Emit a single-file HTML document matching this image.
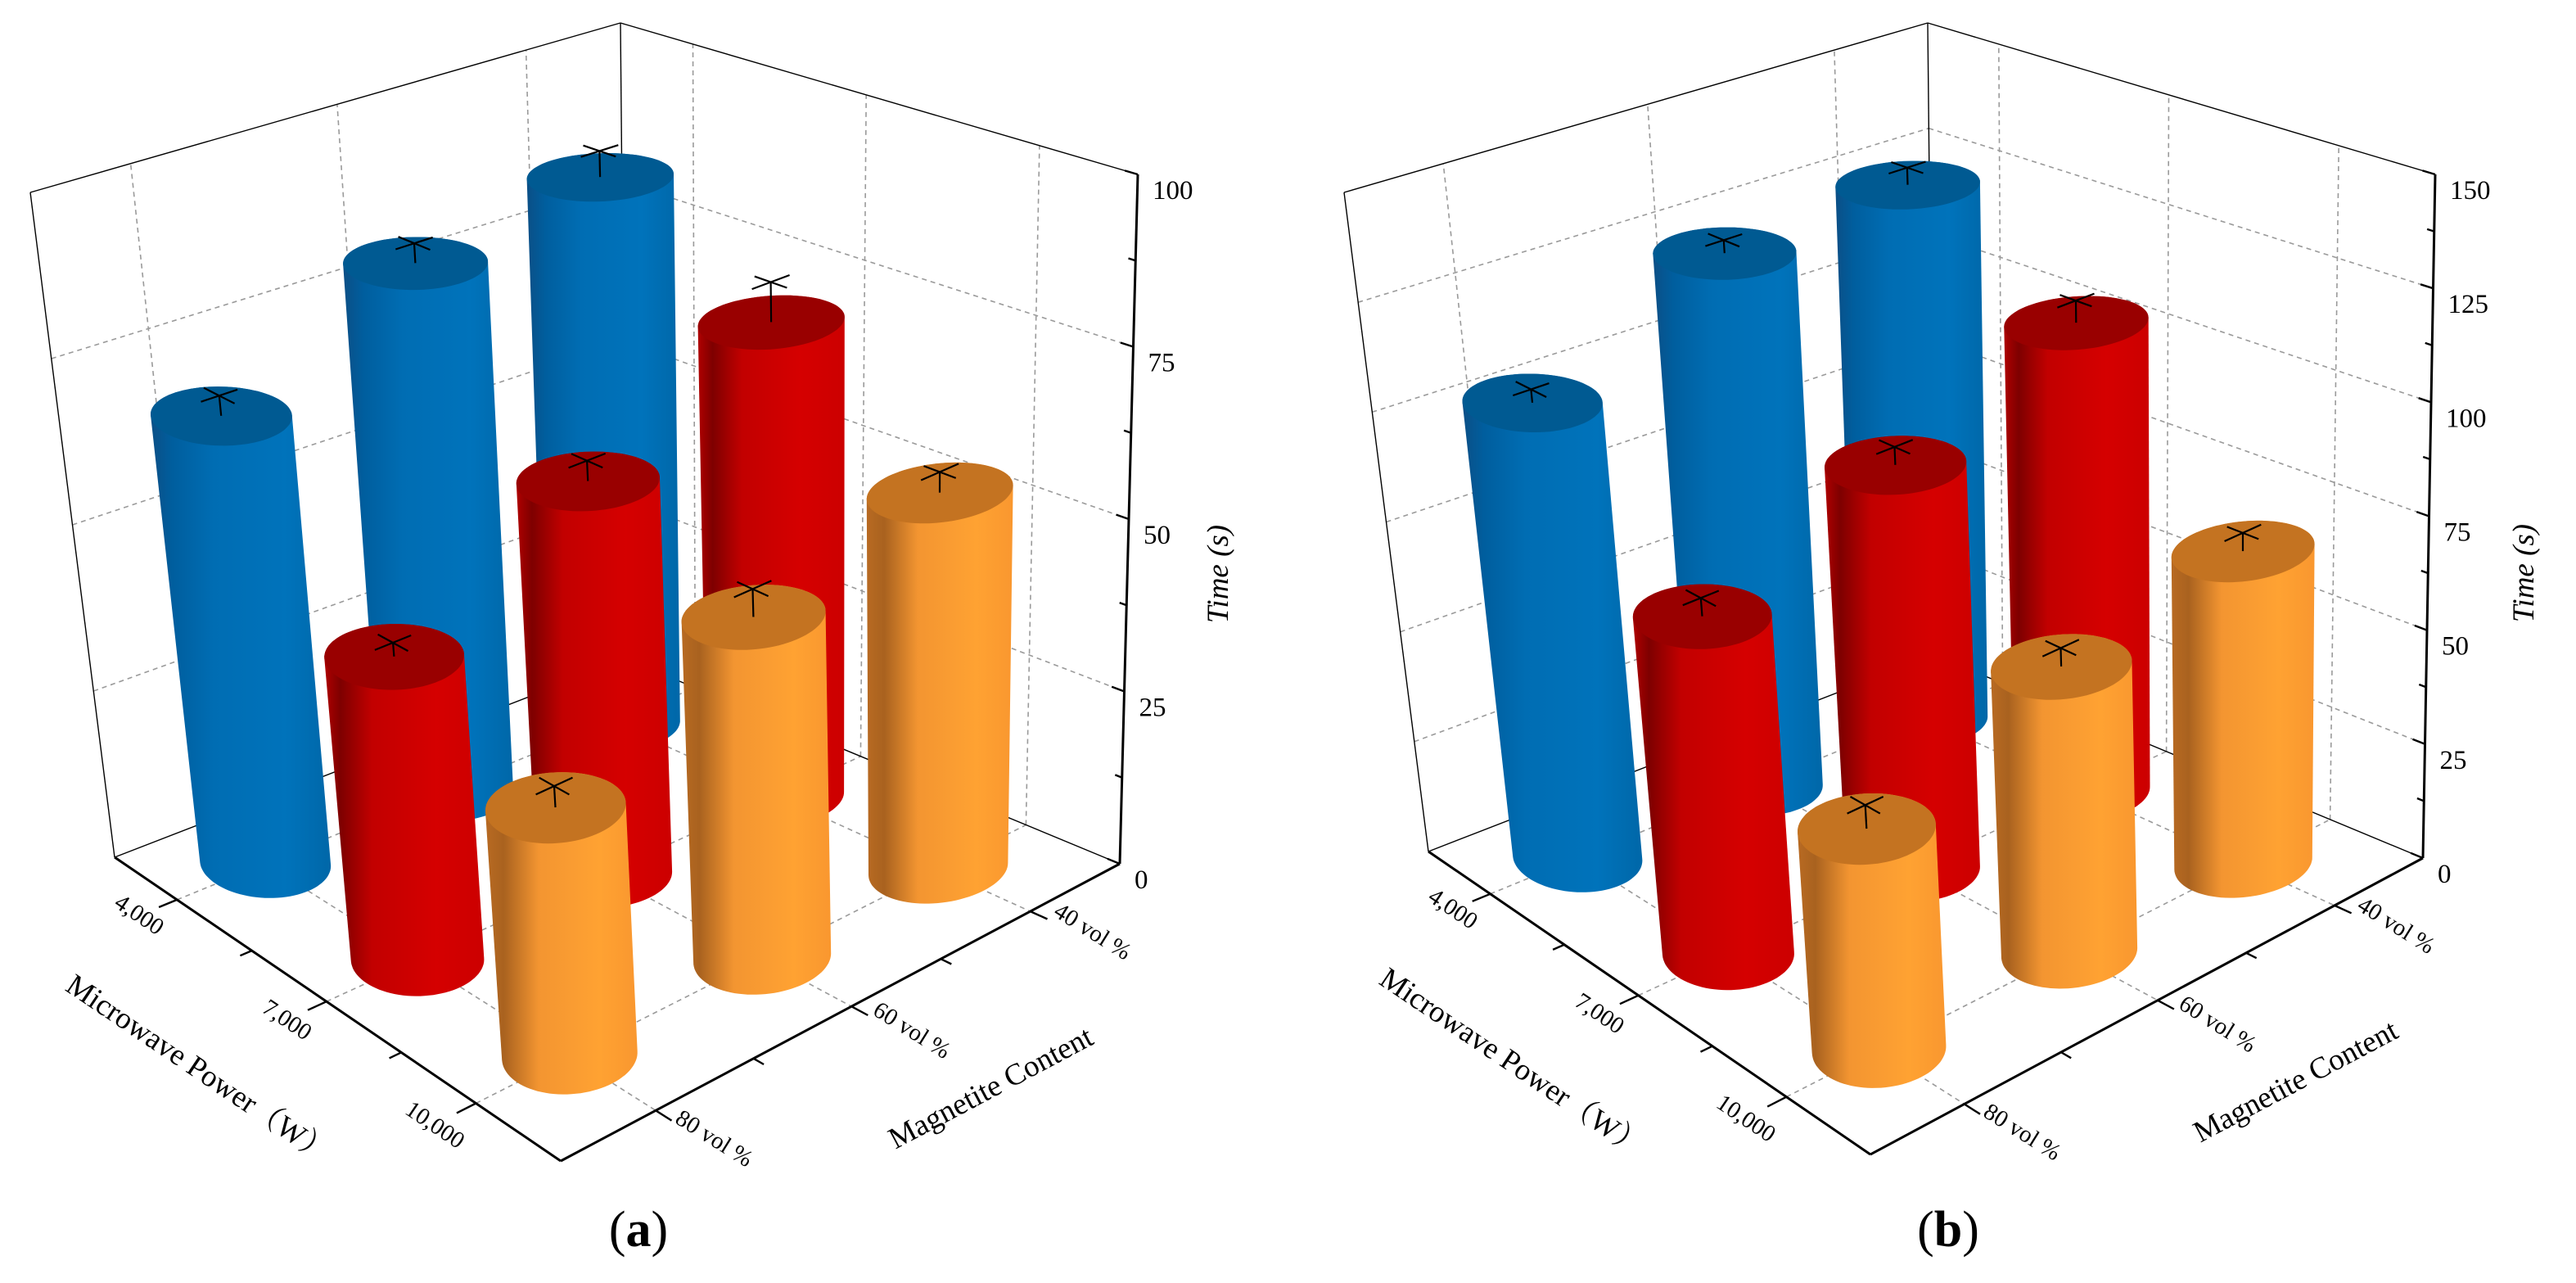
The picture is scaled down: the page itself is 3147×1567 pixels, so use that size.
<!DOCTYPE html>
<html><head><meta charset="utf-8">
<style>
html,body{margin:0;padding:0;background:#fff;}
svg{display:block;}
text{font-family:"Liberation Serif","Noto Serif CJK SC",serif;fill:#000;}
</style></head>
<body>
<svg id="chart" width="3147" height="1567" viewBox="0 0 3147 1567" xmlns="http://www.w3.org/2000/svg">
<defs id="defs"></defs>
</svg>
<script>
// ---- data ----
const powerCats = ["4,000", "7,000", "10,000"];
const magCats = ["80 vol %", "60 vol %", "40 vol %"];
// panel (a) times (s), order: 80, 60, 40 vol %
const timeA_4000 = [67, 80, 84];
const timeA_7000 = [44, 58, 71];
const timeA_10000 = [35, 49, 55];
const errA_4000 = [3, 3, 4];
const errA_7000 = [2, 3, 6];
const errA_10000 = [3, 4, 3];
// panel (b) times (s)
const timeB_4000 = [103, 122, 124];
const timeB_7000 = [74, 90, 106];
const timeB_10000 = [47, 62, 69];
const errB_4000 = [3, 3, 4];
const errB_7000 = [4, 4, 5];
const errB_10000 = [5, 4, 4];
const ticksA = [0, 25, 50, 75, 100];
const ticksB = [0, 25, 50, 75, 100, 125, 150];

// ---- layout ----
const NS = "http://www.w3.org/2000/svg";
const svg = document.getElementById("chart");
const defs = document.getElementById("defs");
const pPos = [0.14, 0.475, 0.81];
const mPos = [0.17, 0.52, 0.84];
const R = 0.095;
const palette = [
  {side:[["0","#0b4f86"],["0.12","#005e9e"],["0.35","#006db3"],["0.75","#0073bb"],["1","#0067a8"]], top:"#005a92", name:"blue"},
  {side:[["0","#b00000"],["0.1","#7e0000"],["0.3","#c20000"],["0.7","#d50000"],["1","#cc0000"]], top:"#990000", name:"red"},
  {side:[["0","#b86a22"],["0.12","#a9621f"],["0.35","#f39531"],["0.75","#ffa232"],["1","#f9972f"]], top:"#c47321", name:"orange"}
];

const panelA = {
  id:"a", zmax:100, ticks:ticksA, rows:[timeA_4000,timeA_7000,timeA_10000], errs:[errA_4000,errA_7000,errA_10000],
  L:[140,1047], F:[685,1418], Rr:[1368,1055], B:[765,805],
  Lt:[37,235], Ft:[632,528], Rt:[1390,213], Bt:[758,28],
  title:[1500,701], label:[780,1500]
};
const panelB = {
  id:"b", zmax:150, ticks:ticksB, rows:[timeB_4000,timeB_7000,timeB_10000], errs:[errB_4000,errB_7000,errB_10000],
  L:[1745,1040], F:[2285,1410], Rr:[2960,1048], B:[2363,800],
  Lt:[1642,235], Ft:[2235,525], Rt:[2975,213], Bt:[2355,28],
  title:[3095,700], label:[2380,1500]
};

function bil(A,Bq,C,D,p,m){
  const a=(1-p)*(1-m), b=p*(1-m), c=p*m, d=(1-p)*m;
  return [A[0]*a+Bq[0]*b+C[0]*c+D[0]*d, A[1]*a+Bq[1]*b+C[1]*c+D[1]*d];
}
function P(c,p,m,w){
  const f=bil(c.L,c.F,c.Rr,c.B,p,m), t=bil(c.Lt,c.Ft,c.Rt,c.Bt,p,m);
  return [f[0]+(t[0]-f[0])*w, f[1]+(t[1]-f[1])*w];
}
function el(tag, attrs, parent){
  const e=document.createElementNS(NS,tag);
  for(const k in attrs) e.setAttribute(k,attrs[k]);
  (parent||svg).appendChild(e);
  return e;
}
function line(g,a,b,style){
  return el("line",Object.assign({x1:a[0].toFixed(1),y1:a[1].toFixed(1),x2:b[0].toFixed(1),y2:b[1].toFixed(1)},style),g);
}
function hull(pts){
  pts=pts.slice().sort((a,b)=>a[0]-b[0]||a[1]-b[1]);
  const cr=(o,a,b)=>(a[0]-o[0])*(b[1]-o[1])-(a[1]-o[1])*(b[0]-o[0]);
  const lo=[],up=[];
  for(const p of pts){while(lo.length>=2&&cr(lo[lo.length-2],lo[lo.length-1],p)<=0)lo.pop();lo.push(p);}
  for(let i=pts.length-1;i>=0;i--){const p=pts[i];while(up.length>=2&&cr(up[up.length-2],up[up.length-1],p)<=0)up.pop();up.push(p);}
  up.pop();lo.pop();return lo.concat(up);
}
const ptsStr=a=>a.map(p=>p[0].toFixed(1)+","+p[1].toFixed(1)).join(" ");
const dash={stroke:"#9a9a9a","stroke-width":"1.6","stroke-dasharray":"6 5",fill:"none"};
const thin={stroke:"#000","stroke-width":"1.4",fill:"none"};
const thick={stroke:"#000","stroke-width":"3",fill:"none"};

function drawPanel(c){
  const g=el("g",{});
  
  
  const grid=el("g",{},g);
  
  
  c.ticks.forEach(t=>{
    if(t===0||t===c.zmax) return;
    const w=t/c.zmax;
    line(grid,P(c,0,0,w),P(c,0,1,w),dash);
    line(grid,P(c,0,1,w),P(c,1,1,w),dash);
  });
  mPos.forEach(m=>{ line(grid,P(c,0,m,0),P(c,0,m,1),dash); line(grid,P(c,0,m,0),P(c,1,m,0),dash); });
  pPos.forEach(p=>{ line(grid,P(c,p,1,0),P(c,p,1,1),dash); line(grid,P(c,p,0,0),P(c,p,1,0),dash); });
  const box=el("g",{},g);
  
  
  line(box,P(c,0,0,1),P(c,0,1,1),thin);
  line(box,P(c,0,1,1),P(c,1,1,1),thin);
  line(box,P(c,0,1,0),P(c,0,1,1),thin);
  line(box,P(c,0,0,0),P(c,0,0,1),thin);
  line(box,P(c,0,0,0),P(c,0,1,0),thin);
  line(box,P(c,0,1,0),P(c,1,1,0),thin);

  const bars=[];
  for(let i=0;i<3;i++) for(let j=0;j<3;j++) bars.push({i,j,p:pPos[i],m:mPos[j],v:c.rows[i][j],e:c.errs[i][j]});
  bars.sort((a,b)=>(a.p-a.m)-(b.p-b.m));
  const barsG=el("g",{},g);
  
  
  bars.forEach(b=>{
    const w=b.v/c.zmax;
    const bot=[],top=[];
    for(let k=0;k<96;k++){
      const th=k/96*Math.PI*2;
      const pp=b.p+R*Math.cos(th), mm=b.m+R*Math.sin(th);
      bot.push(P(c,pp,mm,0)); top.push(P(c,pp,mm,w));
    }
    const h=hull(bot.concat(top));
    const xs=h.map(q=>q[0]);
    const x0=Math.min(...xs), x1=Math.max(...xs);
    const col=palette[b.i];
    const gid="grad-"+c.id+"-"+b.i+"-"+b.j;
    const lg=el("linearGradient",{id:gid,gradientUnits:"userSpaceOnUse",x1:x0,y1:0,x2:x1,y2:0},defs);
    col.side.forEach(s=>el("stop",{offset:s[0],"stop-color":s[1]},lg));
    const bg=el("g",{},barsG);
    
    
    const side=el("polygon",{points:ptsStr(h),fill:"url(#"+gid+")"},bg);
    
    
    const cap=el("polygon",{points:ptsStr(top),fill:col.top},bg);
    
    
    const eg=el("g",{},bg);
    
    
    const we=(b.v+b.e)/c.zmax, d=0.032;
    const es={stroke:"#000","stroke-width":"2.2"};
    line(eg,P(c,b.p,b.m,w),P(c,b.p,b.m,we),es);
    line(eg,P(c,b.p-d,b.m,we),P(c,b.p+d,b.m,we),es);
    line(eg,P(c,b.p,b.m-d,we),P(c,b.p,b.m+d,we),es);
  });

  const ax=el("g",{},g);
  
  
  line(ax,P(c,0,0,0),P(c,1,0,0),thick);
  line(ax,P(c,1,0,0),P(c,1,1,0),thick);
  line(ax,P(c,1,1,0),P(c,1,1,1),thick);
  const pt=[pPos[0],(pPos[0]+pPos[1])/2,pPos[1],(pPos[1]+pPos[2])/2,pPos[2]];
  pt.forEach((p,k)=>{ line(ax,P(c,p,0,0),P(c,p,k%2?-0.022:-0.035,0),{stroke:"#000","stroke-width":"2.4"}); });
  const mt=[mPos[0],(mPos[0]+mPos[1])/2,mPos[1],(mPos[1]+mPos[2])/2,mPos[2]];
  mt.forEach((m,k)=>{ line(ax,P(c,1,m,0),P(c,k%2?1.022:1.035,m,0),{stroke:"#000","stroke-width":"2.4"}); });
  const step=c.ticks[1]-c.ticks[0];
  for(let t=0;t<=c.zmax+0.01;t+=step/2){
    const major=Math.abs(t/step-Math.round(t/step))<0.01;
    const w=t/c.zmax;
    line(ax,P(c,1,1,w),P(c,major?0.975:0.986,1,w),{stroke:"#000","stroke-width":"2.4"});
  }
  c.ticks.forEach(t=>{
    const q=P(c,1,1,t/c.zmax);
    const tx=el("text",{x:(q[0]+18).toFixed(1),y:(q[1]+30).toFixed(1),"font-size":"33"},ax);
    tx.textContent=t;
    
    
  });
  powerCats.forEach((s,i)=>{
    const q=P(c,pPos[i],-0.1,0);
    const tx=el("text",{x:(q[0]+12).toFixed(1),y:q[1].toFixed(1),"font-size":"29","text-anchor":"middle",transform:"rotate(34 "+(q[0]+12).toFixed(1)+" "+q[1].toFixed(1)+")"},ax);
    tx.textContent=s;
    
    
  });
  magCats.forEach((s,j)=>{
    const q=P(c,1.12,mPos[j],0);
    const tx=el("text",{x:q[0].toFixed(1),y:q[1].toFixed(1),"font-size":"29","text-anchor":"middle",transform:"rotate(32 "+q[0].toFixed(1)+" "+q[1].toFixed(1)+")"},ax);
    tx.textContent=s;
    
    
  });
  const pq=P(c,0.5,-0.3,0);
  const px=pq[0]+20, py=pq[1]-8;
  const pTitle=el("text",{x:px.toFixed(1),y:py.toFixed(1),"font-size":"37","text-anchor":"middle",transform:"rotate(34 "+px.toFixed(1)+" "+py.toFixed(1)+")"},ax);
  pTitle.textContent="Microwave Power（W）";
  
  
  const mq=P(c,1.33,0.5,0);
  const mTitle=el("text",{x:mq[0].toFixed(1),y:mq[1].toFixed(1),"font-size":"37","text-anchor":"middle",transform:"rotate(-28 "+mq[0].toFixed(1)+" "+mq[1].toFixed(1)+")"},ax);
  mTitle.textContent="Magnetite Content";
  
  
  const tt=el("text",{x:c.title[0],y:c.title[1],"font-size":"37","font-style":"italic","text-anchor":"middle",transform:"rotate(-90 "+c.title[0]+" "+c.title[1]+")"},ax);
  tt.textContent="Time (s)";
  
  
  const pl=el("text",{x:c.label[0],y:c.label[1]+22,"font-size":"62","text-anchor":"middle"},g);
  
  
  pl.appendChild(document.createTextNode("("));
  const bt=el("tspan",{"font-weight":"bold"},pl);
  bt.textContent=c.id;
  pl.appendChild(document.createTextNode(")"));
}
drawPanel(panelA);
drawPanel(panelB);
</script>
</body></html>
